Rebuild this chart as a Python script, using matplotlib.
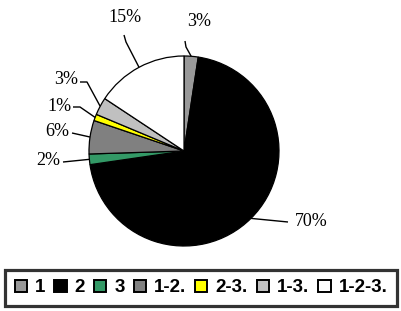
import numpy as np
import matplotlib
matplotlib.use("Agg")
import matplotlib.pyplot as plt

# slice values (clockwise from 12 o'clock)
categories = ["1", "2", "3", "1-2.", "2-3.", "1-3.", "1-2-3."]
values = [2.4, 70.3, 1.8, 5.7, 1.1, 3.0, 15.7]
pct_labels = ["3%", "70%", "2%", "6%", "1%", "3%", "15%"]
colors = ["#999999", "#000000", "#339966", "#808080", "#FFFF00", "#C0C0C0", "#FFFFFF"]

W, H = 402, 311
# label layout in pixels (top-down): text centre, leader start, optional elbow
label_text = [(199, 22), (311, 221), (48, 161), (57, 132), (59, 107), (66, 80), (125, 18)]
label_start = [(185, 41), (288, 222), (63, 162), (72, 133), (73, 107), (80, 82), (124, 35)]
label_elbow = [(186, 47), None, None, None, (80, 107), (87, 82), (126, 42)]

fig = plt.figure(figsize=(W / 100, H / 100), dpi=100)
ax = fig.add_axes([0, 0, 1, 1])

cx, cy, r = 184, H - 151, 95
wedges, _ = ax.pie(values, colors=colors, startangle=90, counterclock=False,
                   center=(cx, cy), radius=r, frame=True,
                   wedgeprops=dict(edgecolor="black", linewidth=0.9))
ax.set_xlim(0, W)
ax.set_ylim(0, H)
ax.set_aspect("equal")
ax.axis("off")

for w, txt, tpos, spos, epos in zip(wedges, pct_labels, label_text, label_start, label_elbow):
    mid = np.deg2rad((w.theta1 + w.theta2) / 2)
    ex, ey = cx + r * np.cos(mid), cy + r * np.sin(mid)
    xs = [spos[0]]
    ys = [H - spos[1]]
    if epos is not None:
        xs.append(epos[0])
        ys.append(H - epos[1])
    xs.append(ex)
    ys.append(ey)
    ax.plot(xs, ys, color="black", linewidth=1.0, solid_capstyle="butt")
    ax.text(tpos[0], H - tpos[1], txt, ha="center", va="center",
            fontsize=13, family="Liberation Serif")

leg = fig.legend(wedges, categories, loc="center", bbox_to_anchor=(201 / W, 1 - 288 / H),
                 ncol=7, frameon=True, fancybox=False, edgecolor="black",
                 prop=dict(family="Liberation Sans", weight="bold", size=13.5),
                 handlelength=0.66, handleheight=0.66, handletextpad=0.42,
                 columnspacing=0.48, borderpad=0.5, borderaxespad=0)
leg.get_frame().set_linewidth(2.3)
for h in leg.legend_handles:
    h.set_linewidth(1.4)

fig.savefig("out.png", dpi=100)
